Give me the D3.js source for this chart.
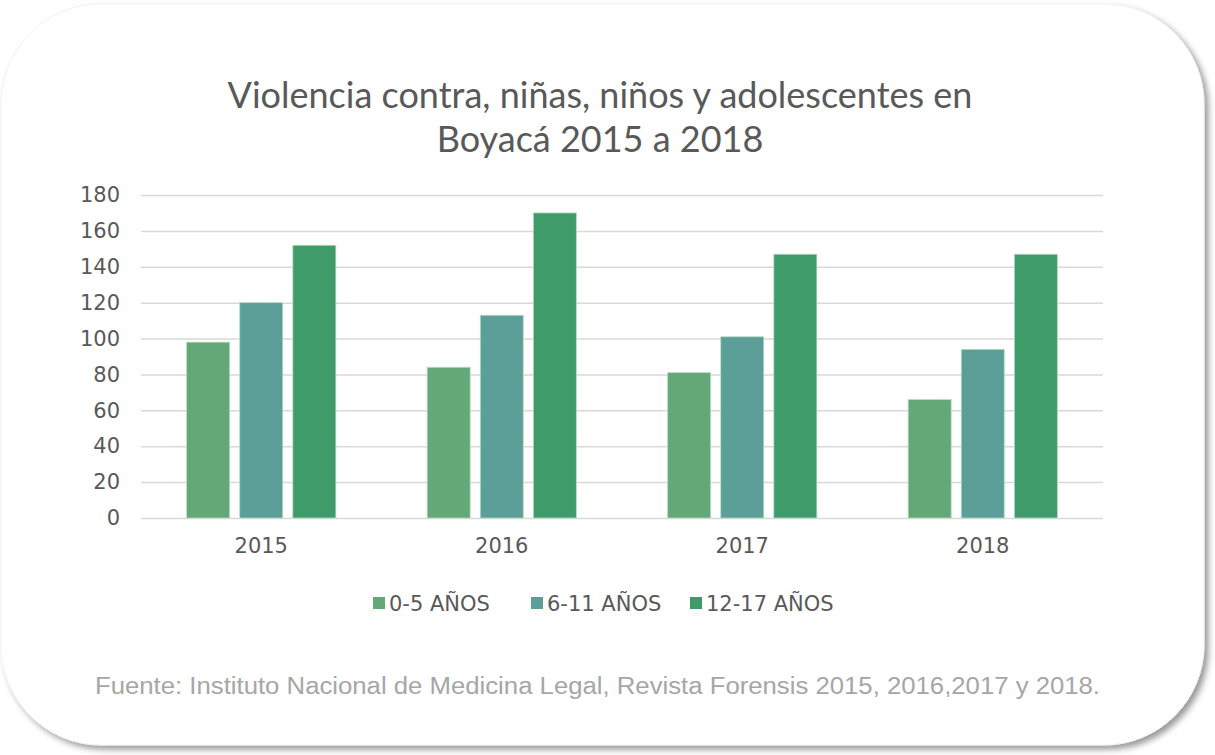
<!DOCTYPE html>
<html>
<head>
<meta charset="utf-8">
<script src="https://cdn.jsdelivr.net/npm/d3@7"></script>
<style>
  body { margin: 0; background: #ffffff; }
  svg { display: block; }
</style>
</head>
<body>
<div id="graph"></div>
<script>
const fullWidth = 1215;
const fullHeight = 755;
const margin = { top: 195, right: 112, bottom: 237, left: 141 };
const width = fullWidth - margin.left - margin.right;
const height = fullHeight - margin.top - margin.bottom;

// data
const years = ["2015", "2016", "2017", "2018"];
const series = ["0-5 AÑOS", "6-11 AÑOS", "12-17 AÑOS"];
const age0to5 = [98, 84, 81, 66];
const age6to11 = [120, 113, 101, 94];
const age12to17 = [152, 170, 147, 147];
const yTicks = [0, 20, 40, 60, 80, 100, 120, 140, 160, 180];
const colors = ["#63a876", "#5c9f99", "#3f9b69"];

const valuesBySeries = [age0to5, age6to11, age12to17];
const rows = years.map((y, i) => ({
  year: y,
  values: series.map((s, j) => ({ key: s, value: valuesBySeries[j][i] }))
}));

const labelFont = "'DejaVu Sans', sans-serif";

const svgRoot = d3.select("#graph")
  .append("svg")
  .attr("width", fullWidth)
  .attr("height", fullHeight);

// card with shadow
const defs = svgRoot.append("defs");
const filter = defs.append("filter")
  .attr("id", "shadow")
  .attr("x", "-5%").attr("y", "-5%")
  .attr("width", "115%").attr("height", "115%");
filter.append("feDropShadow")
  .attr("dx", 4).attr("dy", 4)
  .attr("stdDeviation", 3)
  .attr("flood-color", "#000")
  .attr("flood-opacity", 0.4);

svgRoot.append("rect")
  .attr("x", 1).attr("y", 4)
  .attr("width", 1203).attr("height", 741)
  .attr("rx", 100).attr("ry", 100)
  .attr("fill", "#ffffff")
  .attr("stroke", "#f2f2f2")
  .attr("filter", "url(#shadow)");

const svg = svgRoot.append("g")
  .attr("transform", `translate(${margin.left},${margin.top})`);

// scales
const x0 = d3.scaleBand()
  .domain(years)
  .range([0, width])
  .padding(0);

const x1 = d3.scaleBand()
  .domain(series)
  .range([0, x0.bandwidth()])
  .paddingInner(0.19)
  .paddingOuter(0.86);

const y = d3.scaleLinear()
  .domain([0, 180])
  .range([height, 0]);

// grid
svg.append("g")
  .attr("class", "grid")
  .call(d3.axisLeft(y).tickValues(yTicks).tickSize(-width).tickFormat(""))
  .call(g => g.select(".domain").remove())
  .call(g => g.selectAll("line").attr("stroke", "#d9d9d9").attr("stroke-width", 1.5));

// y axis labels
svg.append("g")
  .call(d3.axisLeft(y).tickValues(yTicks).tickSize(0).tickPadding(21))
  .call(g => g.select(".domain").remove())
  .call(g => g.selectAll("text")
    .attr("fill", "#595959")
    .style("font-family", labelFont)
    .style("font-size", "21px"));

// x axis labels
svg.append("g")
  .attr("transform", `translate(0,${height})`)
  .call(d3.axisBottom(x0).tickSize(0).tickPadding(20))
  .call(g => g.select(".domain").remove())
  .call(g => g.selectAll("text")
    .attr("fill", "#595959")
    .style("font-family", labelFont)
    .style("font-size", "21px"));

// bars
const groups = svg.append("g").selectAll(".group")
  .data(rows)
  .enter().append("g")
  .attr("class", "group")
  .attr("transform", d => `translate(${x0(d.year)},0)`);

groups.selectAll("rect")
  .data(d => d.values)
  .enter().append("rect")
  .attr("x", d => x1(d.key))
  .attr("y", d => y(d.value))
  .attr("width", x1.bandwidth())
  .attr("height", d => y(0) - y(d.value))
  .attr("fill", (d, i) => colors[i])
  .attr("stroke", "#b8dcc4")
  .attr("stroke-width", 0.8);

// title
const title = svgRoot.append("text")
  .attr("x", 600)
  .attr("y", 108)
  .attr("text-anchor", "middle")
  .attr("fill", "#595959")
  .style("font-family", "Lato, 'Noto Sans', sans-serif")
  .style("font-size", "36px");
title.append("tspan").attr("x", 600).text("Violencia contra, niñas, niños y adolescentes en");
title.append("tspan").attr("x", 600).attr("dy", 44).text("Boyacá 2015 a 2018");

// legend
const legendItems = [
  { label: series[0], x: 373 },
  { label: series[1], x: 531 },
  { label: series[2], x: 690 }
];
const legend = svgRoot.append("g").selectAll(".legend")
  .data(legendItems)
  .enter().append("g")
  .attr("class", "legend")
  .attr("transform", d => `translate(${d.x},603)`);

legend.append("rect")
  .attr("x", 0).attr("y", -6)
  .attr("width", 12).attr("height", 12)
  .attr("fill", (d, i) => colors[i]);

legend.append("text")
  .attr("x", 16)
  .attr("dy", "0.36em")
  .attr("fill", "#595959")
  .style("font-family", labelFont)
  .style("font-size", "21px")
  .text(d => d.label);

// source
svgRoot.append("text")
  .attr("x", 95)
  .attr("y", 694)
  .attr("fill", "#a6a6a6")
  .style("font-family", "'Liberation Sans Narrow', 'Liberation Sans', sans-serif")
  .style("font-size", "23px")
  .attr("textLength", 1005)
  .attr("lengthAdjust", "spacingAndGlyphs")
  .text("Fuente: Instituto Nacional de Medicina Legal, Revista Forensis 2015, 2016,2017 y 2018.");
</script>
</body>
</html>
